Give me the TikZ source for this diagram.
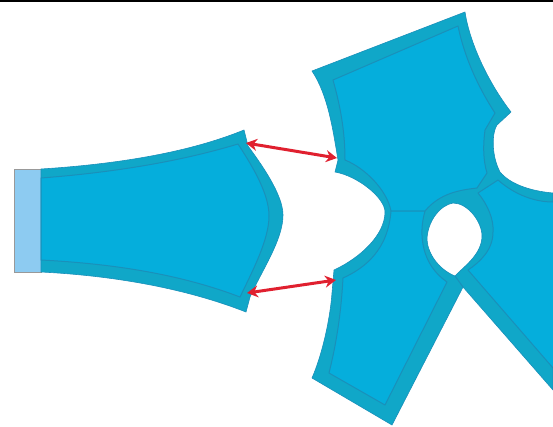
\documentclass[tikz,border=0pt]{standalone}
\usetikzlibrary{arrows.meta}
\definecolor{rimblue}{HTML}{10A7C8}
\definecolor{coreblue}{HTML}{05AEDC}
\definecolor{seamblue}{HTML}{1A90BA}
\definecolor{stubblue}{HTML}{8DCBF1}
\definecolor{gaugered}{HTML}{E0202F}
\tikzset{
    rim part/.style={fill=rimblue, draw=seamblue, line width=.6pt, line join=round, even odd rule},
    core part/.style={fill=coreblue, draw=seamblue, line width=1pt, line join=round},
    stub part/.style={fill=stubblue, draw=gray!80, line width=.7pt},
    gauge line/.style={gaugered, line width=3pt, {Stealth[length=11pt,width=12pt]}-{Stealth[length=11pt,width=12pt]}}
}
\begin{document}
\begin{tikzpicture}[x=1pt,y=-1pt]
    \useasboundingbox (0,0) rectangle (553,426);
    \fill[black] (0,0) rectangle (553,2);
    % root stub of the left piece
    \draw[stub part] (14,169) rectangle (41,272);
    % left piece
    \draw[rim part] (41,169)
        .. controls (120,164) and (190,152) .. (244,130)
        -- (248,146)
        .. controls (262,165) and (283,195) .. (283,215)
        .. controls (283,240) and (262,270) .. (250,297)
        -- (246,312)
        .. controls (190,290) and (120,276) .. (41,272) -- cycle;
    \draw[core part] (41,178)
        .. controls (120,172) and (185,160) .. (238,144)
        .. controls (255,170) and (269,195) .. (269,216)
        .. controls (269,240) and (252,272) .. (240,297)
        .. controls (185,276) and (120,264) .. (41,260) -- cycle;
    % the hub with its three pieces, and the hole
    \draw[rim part] (312,71) -- (465,12)
        .. controls (470,45) and (490,85) .. (511,112)
        -- (497,125)
        .. controls (492,132) and (491,155) .. (500,172)
        .. controls (510,184) and (530,191) .. (553,193)
        -- (553,390) -- (463,287) -- (392,425) -- (312,378)
        .. controls (322,355) and (330,320) .. (332,293)
        -- (334,270)
        .. controls (360,258) and (385,235) .. (385,212)
        .. controls (385,198) and (358,176) .. (335,172)
        -- (338,160)
        .. controls (333,130) and (328,95) .. (312,71) -- cycle
        (453,203)
        .. controls (440,205) and (427,222) .. (427,240)
        .. controls (428,255) and (440,270) .. (455,276)
        .. controls (462,268) and (482,255) .. (482,236)
        .. controls (482,222) and (468,203) .. (453,203) -- cycle;
    % upper piece
    \draw[core part] (333,80) -- (458,26)
        .. controls (465,60) and (480,90) .. (495,113)
        -- (485,130)
        .. controls (483,145) and (483,160) .. (487,173)
        -- (477,188)
        .. controls (460,190) and (440,193) .. (425,211)
        -- (391,211)
        .. controls (387,190) and (365,168) .. (345,160)
        .. controls (345,130) and (340,105) .. (333,80) -- cycle;
    % lower piece
    \draw[core part] (391,211) -- (425,211)
        .. controls (418,235) and (422,265) .. (447,282)
        -- (385,405) -- (329,373)
        .. controls (336,345) and (341,315) .. (343,278)
        .. controls (365,268) and (388,250) .. (391,211) -- cycle;
    % right piece, cut off by the edge
    \draw[core part] (553,202)
        .. controls (535,202) and (515,195) .. (498,180)
        -- (478,193)
        .. controls (488,205) and (494,220) .. (493,232)
        .. controls (493,250) and (480,262) .. (468,270)
        -- (553,368);
    \draw[seamblue, line width=1pt] (455,276) -- (463,287);
    % gauge arrows
    \coordinate (leftTop) at (246,143);
    \coordinate (upperNotch) at (337,158);
    \coordinate (leftBottom) at (247,293);
    \coordinate (lowerNotch) at (336,280);
    \draw[gauge line] (leftTop) -- (upperNotch);
    \draw[gauge line] (leftBottom) -- (lowerNotch);
\end{tikzpicture}
\end{document}
